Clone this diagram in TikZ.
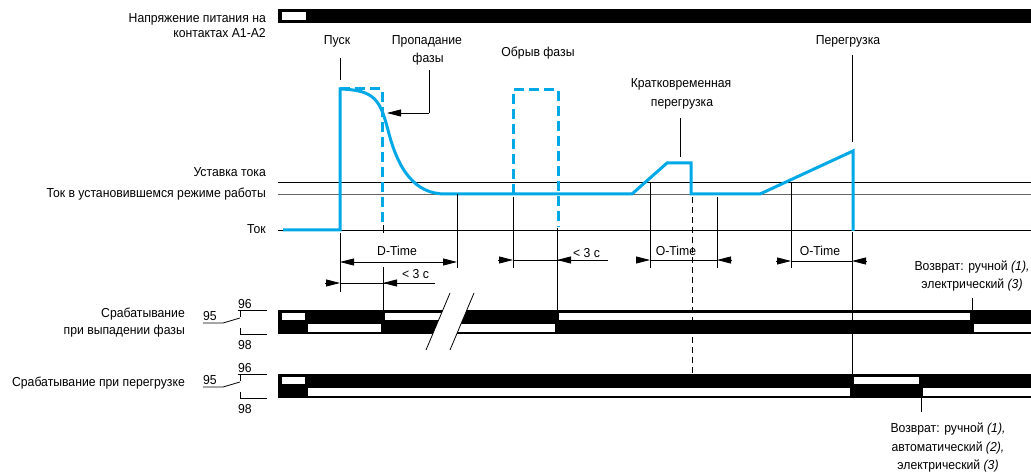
\documentclass[tikz,border=0pt]{standalone}
\usepackage{fontspec}
\setmainfont{Liberation Sans}[FakeStretch=0.94]
\usetikzlibrary{arrows.meta}
\definecolor{cur}{RGB}{0,169,230}
\begin{document}
\begin{tikzpicture}[x=1pt,y=-1pt,
  lbl/.style={inner sep=0pt,font=\fontsize{13}{15}\selectfont},
  thinl/.style={line width=0.8pt},
  curve/.style={cur,line width=3pt},
  curdash/.style={cur,line width=3pt,dash pattern=on 10pt off 5pt},
  tipA/.style={thinl,-{Triangle[length=14pt,width=7pt]}},
  dimA/.style={thinl,{Triangle[length=14pt,width=7pt]}-{Triangle[length=14pt,width=7pt]}}
]
\useasboundingbox (0,0) rectangle (1031,473);

% ---------- labels ----------
\node[lbl,anchor=base east] (v1) at (266,22.5) {Напряжение питания на};
\node[lbl,anchor=base east] (v2) at (266,38) {контактах А1-А2};
\node[lbl,anchor=base] (pusk) at (337,45) {Пуск};
\node[lbl,anchor=base] (prop1) at (427,45) {Пропадание};
\node[lbl,anchor=base] (prop2) at (428,63) {фазы};
\node[lbl,anchor=base] (obryv) at (538,57) {Обрыв фазы};
\node[lbl,anchor=base] (krat1) at (681,88) {Кратковременная};
\node[lbl,anchor=base] (krat2) at (682,107) {перегрузка};
\node[lbl,anchor=base] (peregr) at (848,45) {Перегрузка};
\node[lbl,anchor=base east] (ust) at (266,177) {Уставка тока};
\node[lbl,anchor=base east] (ustv) at (266,198) {Ток в установившемся режиме работы};
\node[lbl,anchor=base east] (tok) at (266,234) {Ток};

% ---------- reference lines ----------
\coordinate (l1a) at (278,182); \coordinate (l1b) at (1031,182);
\coordinate (l2a) at (278,194); \coordinate (l2b) at (1031,194);
\coordinate (l3a) at (278,230); \coordinate (l3b) at (1031,230);
\draw[thinl] (l1a) -- (l1b);
\draw[thinl,black!60] (l2a) -- (l2b);
\draw[thinl] (l3a) -- (l3b);

% ---------- supply bar ----------
\fill[black] (278,9) rectangle (1031,23);
\fill[white] (282,12) rectangle (306,20);

% ---------- leaders ----------
\coordinate (puskT) at (340,58); \coordinate (puskB) at (340,80);
\draw[thinl] (puskT) -- (puskB);
\coordinate (propT) at (429,70); \coordinate (propC) at (429,113); \coordinate (propE) at (387,113);
\draw[thinl] (propT) -- (propC);
\draw[tipA] (propC) -- (propE);
\coordinate (kratT) at (680,118); \coordinate (kratB) at (680,157);
\draw[thinl] (kratT) -- (kratB);
\coordinate (perT) at (852,55); \coordinate (perB) at (852,142);
\draw[thinl] (perT) -- (perB);

% ---------- current ----------
\draw[curve] (283,230) -- (340,230) -- (340,89)
  .. controls (375,90) and (380,100) .. (388,130)
  .. controls (398,170) and (415,194) .. (445,194)
  -- (632,194) -- (667,163) -- (691,163) -- (691,194) -- (760,194)
  -- (853,151) -- (853,231);
\draw[curdash] (340,89) -- (382,89) -- (382,223);
\draw[curdash] (513,194) -- (513,90) -- (558,90) -- (558,227);

% ---------- phase relay bar ----------
\fill[black] (278,310) rectangle (1031,334);
\fill[white] (281.5,312.5) rectangle (304.5,320);
\fill[white] (385,312.5) rectangle (450,320);
\fill[white] (559,312.5) rectangle (970,320);
\fill[white] (308,324) rectangle (381,331.5);
\fill[white] (450,324) rectangle (555,331.5);
\fill[white] (974,324) rectangle (1031,331.5);
% break
\fill[white] (450,293) -- (474,293) -- (450,350) -- (426,350) -- cycle;
\coordinate (brA1) at (450,293); \coordinate (brA2) at (426,350);
\coordinate (brB1) at (474,293); \coordinate (brB2) at (450,350);
\draw[thinl] (brA1) -- (brA2);
\draw[thinl] (brB1) -- (brB2);

% ---------- overload relay bar ----------
\fill[black] (278,374) rectangle (1031,398);
\fill[white] (281.5,376.5) rectangle (304.5,384);
\fill[white] (854,376.5) rectangle (919,384);
\fill[white] (308,388) rectangle (850,395.5);
\fill[white] (923,388) rectangle (1031,395.5);

% ---------- dimension ticks ----------
\draw[thinl] (340,233) -- (340,292);
\draw[thinl] (383,225) -- (383,233);
\draw[thinl] (383,267) -- (383,310);
\draw[thinl] (457,194) -- (457,268);
\draw[thinl] (513,197) -- (513,268);
\draw[thinl] (557,228) -- (557,310);
\draw[thinl] (650,182) -- (650,268);
\draw[thinl] (717,197) -- (717,268);
\draw[thinl] (791,182) -- (791,268);
\draw[thinl] (852,232) -- (852,374);
\draw[thinl,dash pattern=on 6pt off 4pt] (692,197) -- (692,387);

% D-Time
\coordinate (dtL) at (340,262); \coordinate (dtR) at (457,262);
\draw[dimA] (dtL) -- (dtR);
\node[lbl,anchor=base] (dtime) at (397,255) {D-Time};
% < 3 c (1)
\draw[tipA] (325,283) -- (340,283);
\draw[thinl] (340,283) -- (435,283);
\draw[tipA] (398,283) -- (383,283);
\node[lbl,anchor=base west] (lt1) at (402,279) {< 3 с};
% < 3 c (2)
\draw[tipA] (498,260) -- (513,260);
\draw[thinl] (513,260) -- (608,260);
\draw[tipA] (572,260) -- (557,260);
\node[lbl,anchor=base west] (lt2) at (573,258) {< 3 с};
% O-Time 1
\draw[tipA] (636,260) -- (650,260);
\draw[thinl] (650,260) -- (717,260);
\draw[tipA] (731,260) -- (717,260);
\node[lbl,anchor=base] (ot1) at (676,256) {O-Time};
% O-Time 2
\draw[tipA] (776,261) -- (791,261);
\draw[thinl] (791,261) -- (852,261);
\draw[tipA] (867,261) -- (852,261);
\node[lbl,anchor=base] (ot2) at (820,256) {O-Time};

% ---------- return notes ----------
\node[lbl,anchor=base] (r1a) at (972,270) {Возврат: ручной \textit{(1),}};
\node[lbl,anchor=base] (r1b) at (972,288) {электрический \textit{(3)}};
\coordinate (r1T) at (972,298); \coordinate (r1B) at (972,310);
\draw[thinl] (r1T) -- (r1B);
\coordinate (r2T) at (921,398); \coordinate (r2B) at (921,412);
\draw[thinl] (r2T) -- (r2B);
\node[lbl,anchor=base] (r2a) at (948,432) {Возврат: ручной \textit{(1),}};
\node[lbl,anchor=base] (r2b) at (948,451) {автоматический \textit{(2),}};
\node[lbl,anchor=base] (r2c) at (948,469) {электрический \textit{(3)}};

% ---------- relay labels & contacts ----------
\node[lbl,anchor=base east] (s1a) at (185,317) {Срабатывание};
\node[lbl,anchor=base east] (s1b) at (185,334) {при выпадении фазы};
\node[lbl,anchor=base east] (s2) at (185,386) {Срабатывание при перегрузке};
\foreach \dy/\nm in {0/a,64/b}{
  \node[lbl,anchor=base west] (n96\nm) at (238,308+\dy) {96};
  \node[lbl,anchor=base west] (n95\nm) at (203,320+\dy) {95};
  \node[lbl,anchor=base west] (n98\nm) at (238,349+\dy) {98};
  \draw[thinl] (238,310+\dy) -- (267,310+\dy);
  \draw[thinl] (240,310+\dy) -- (240,317+\dy);
  \draw[thinl] (203,323+\dy) -- (223,323+\dy) -- (240,318+\dy);
  \draw[thinl] (240,328+\dy) -- (240,334+\dy) -- (267,334+\dy);
}
\end{tikzpicture}
\end{document}
